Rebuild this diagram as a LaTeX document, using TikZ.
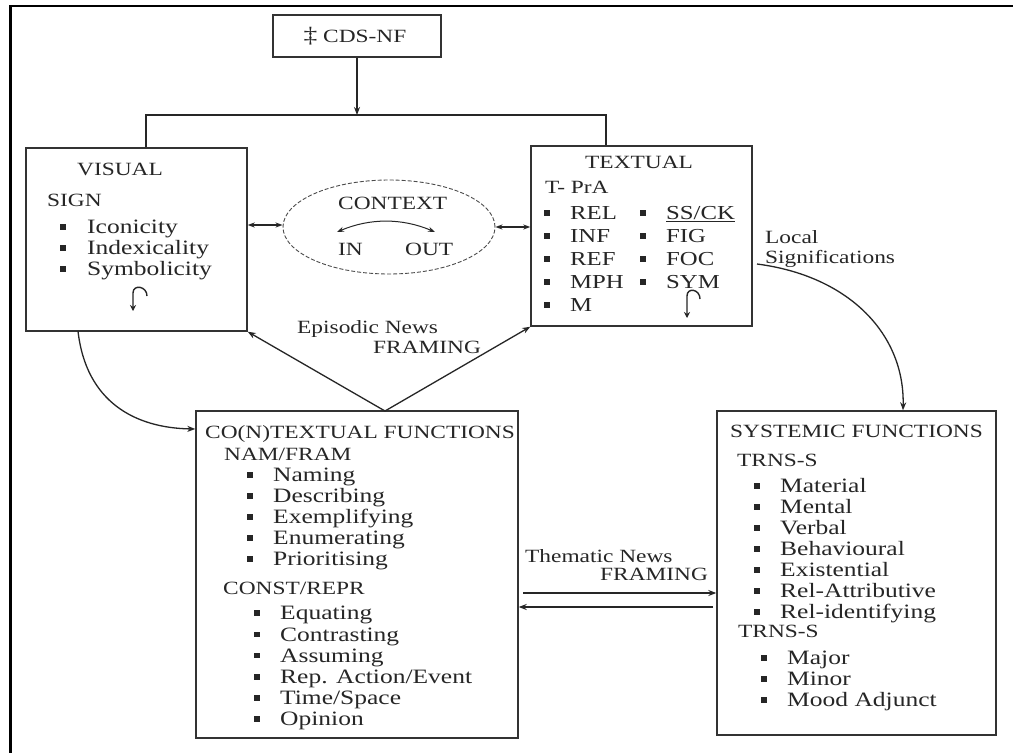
\documentclass[tikz,border=0pt]{standalone}
\usepackage{fontspec}
\setmainfont{Liberation Serif}[FakeStretch=1.25]
\usetikzlibrary{arrows.meta,shapes.geometric}
\begin{document}
\begin{tikzpicture}[x=1pt,y=-1pt,
  ln/.style={draw=black!85,line width=1.3pt},
  box/.style={draw=black!80,line width=1.4pt,inner sep=0},
  hd/.style={anchor=west,inner sep=0,text height=13pt,text depth=0pt,font=\fontsize{18.7}{21}\selectfont,text=black!85},
  itm/.style={anchor=west,inner sep=0,text height=13.5pt,text depth=0pt,font=\fontsize{20.4}{23}\selectfont,text=black!85},
  bul/.style={rectangle,fill=black!85,minimum size=5.5pt,inner sep=0},
  tip/.style={-{Stealth[length=8pt,width=6pt]}},
  tips/.style={{Stealth[length=7pt,width=5pt]}-{Stealth[length=7pt,width=5pt]}},
  hook/.style={draw=black!85,line width=1.4pt,-{Stealth[length=6pt,width=6pt]}},
  ]
\useasboundingbox (0,0) rectangle (1013,753);
\fill[white] (0,0) rectangle (1013,753);
% partial outer frame
\draw[line width=2.5pt,black] (1013,6) -- (10.5,6) -- (10.5,753);

% boxes
\node[box,minimum width=168,minimum height=42] (cds) at (357,36) {};
\node[hd,anchor=center] (cdst) at (355,36) {\fontsize{22}{22}\selectfont‡\fontsize{18.7}{21}\selectfont\ CDS-NF};
\node[box,minimum width=221,minimum height=183] (vis) at (136.5,239.5) {};
\node[box,minimum width=221,minimum height=180] (txt) at (641.5,236) {};
\node[box,minimum width=322,minimum height=327] (con) at (357,574.5) {};
\node[box,minimum width=279,minimum height=324] (sys) at (856.5,573) {};
\node[ellipse,draw=black!70,dash pattern=on 4pt off 2pt,line width=0.9pt,minimum width=212,minimum height=94,inner sep=0] (ctx) at (389,227) {};

% top connector
\coordinate (jl) at (146,115);
\coordinate (jr) at (606,115);
\draw[ln,tip] (cds.south) -- (cds.south |- jl);
\draw[ln] (jl |- vis.north) -- (jl) -- (jr) -- (jr |- txt.north);

% context double arrows
\draw[ln,line width=1.1pt,tips] (vis.east |- 0,225) -- (ctx.west |- 0,225);
\draw[ln,line width=1.1pt,tips] (ctx.east) -- (ctx.east -| txt.west);

% VISUAL content
\node[hd] (vist) at (77,169) {VISUAL};
\node[hd] (sign) at (47,200) {SIGN};
\foreach \t [count=\i] in {Iconicity,Indexicality,Symbolicity} {
  \node[bul] (vb\i) at (63,206+21*\i) {};
  \node[itm] (vi\i) at (87,206+21*\i) {\t};
}
\draw[hook] (147,296) .. controls (147,286) and (133,284) .. (133,293) -- (133,311);

% CONTEXT content
\node[hd] (ctxt) at (338,203) {CONTEXT};
\node[hd] (cin) at (338,249) {IN};
\node[hd] (cout) at (405,249) {OUT};
\draw[ln,line width=1pt,tips] (337,232) .. controls (370,218) and (402,218) .. (435,232);

% TEXTUAL content
\node[hd] (txtt) at (585,162) {TEXTUAL};
\node[hd] (tpra) at (545,187) {T- PrA};
\foreach \t [count=\i] in {REL,INF,REF,MPH,M} {
  \node[bul] (tb\i) at (547,190+23*\i) {};
  \node[itm,font=\fontsize{19.8}{23}\selectfont] (ti\i) at (570,190+23*\i) {\t};
}
\foreach \t [count=\i] in {\underline{SS/CK},FIG,FOC,SYM} {
  \node[bul] (ub\i) at (643,190+23*\i) {};
  \node[itm,font=\fontsize{19.8}{23}\selectfont] (ui\i) at (666,190+23*\i) {\t};
}
\draw[hook] (700,299) .. controls (700,289) and (687,287) .. (687,296) -- (687,318);

% Local significations
\node[hd] (loc1) at (765,237) {Local};
\node[hd] (loc2) at (765,257) {Significations};
\coordinate (ls) at (757,264);
\draw[ln,tip] (ls) .. controls (850,276) and (905,335) .. (sys.north -| 903,0);

% Episodic framing
\node[hd] (epi1) at (297,327) {Episodic News};
\node[hd] (epi2) at (373,347) {FRAMING};
\coordinate (apex) at (385,411);
\draw[ln,tip] (apex) -- (vis.south east);
\draw[ln,tip] (apex) -- (txt.south west);

% visual -> contextual curve
\coordinate (vs) at (78,331);
\draw[ln,tip] (vs) .. controls (86,402) and (135,428) .. (con.west |- 0,429);

% CO(N)TEXTUAL content
\node[hd] (cont) at (205,432) {CO(N)TEXTUAL FUNCTIONS};
\node[hd] (nam) at (224,454) {NAM/FRAM};
\foreach \t [count=\i] in {Naming,Describing,Exemplifying,Enumerating,Prioritising} {
  \node[bul] (nb\i) at (250,454+21*\i) {};
  \node[itm] (ni\i) at (273,454+21*\i) {\t};
}
\node[hd] (cst) at (223,588) {CONST/REPR};
\foreach \t [count=\i] in {Equating,Contrasting,Assuming,Rep. Action/Event,Time/Space,Opinion} {
  \node[bul] (cb\i) at (257,592+21.2*\i) {};
  \node[itm] (ci\i) at (280,592+21.2*\i) {\t};
}

% thematic framing
\node[hd] (th1) at (525,556) {Thematic News};
\node[hd] (th2) at (600,574) {FRAMING};
\draw[ln,tip] (523,593) -- (sys.west |- 0,593);
\draw[ln,tip] (713,607) -- (con.east |- 0,607);

% SYSTEMIC content
\node[hd] (syst) at (730,431) {SYSTEMIC FUNCTIONS};
\node[hd] (trn1) at (737,460) {TRNS-S};
\foreach \t [count=\i] in {Material,Mental,Verbal,Behavioural,Existential,Rel-Attributive,Rel-identifying} {
  \node[bul] (sb\i) at (757,465+21*\i) {};
  \node[itm] (si\i) at (780,465+21*\i) {\t};
}
\node[hd] (trn2) at (738,631) {TRNS-S};
\foreach \t [count=\i] in {Major,Minor,Mood Adjunct} {
  \node[bul] (mb\i) at (764,637+21*\i) {};
  \node[itm] (mi\i) at (787,637+21*\i) {\t};
}
\end{tikzpicture}
\end{document}
